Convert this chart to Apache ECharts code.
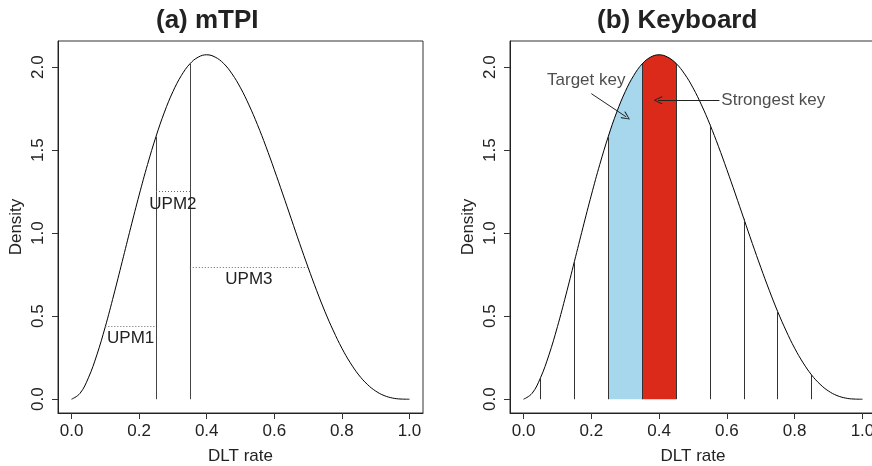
<!DOCTYPE html>
<html>
<head>
<meta charset="utf-8">
<script src="https://cdn.jsdelivr.net/npm/echarts@6/dist/echarts.min.js"></script>
<style>
  html, body { margin: 0; padding: 0; background: #fff; }
  #main { width: 872px; height: 466px; }
</style>
</head>
<body>
<div id="main"></div>
<script>
// density curve (same curve in both panels)
var dltRate = [0, 0.025, 0.05, 0.075, 0.1, 0.125, 0.15, 0.175, 0.2, 0.225, 0.25, 0.275, 0.3, 0.325, 0.35, 0.375, 0.4,
  0.425, 0.45, 0.475, 0.5, 0.525, 0.55, 0.575, 0.6, 0.625, 0.65, 0.675, 0.7, 0.725, 0.75, 0.775, 0.8, 0.825, 0.85,
  0.875, 0.9, 0.925, 0.95, 0.975, 1];
var density = [0, 0.035, 0.129, 0.267, 0.437, 0.628, 0.829, 1.032, 1.229, 1.414, 1.582, 1.729, 1.852, 1.949, 2.019,
  2.060, 2.074, 2.060, 2.022, 1.959, 1.875, 1.772, 1.654, 1.523, 1.382, 1.236, 1.087, 0.938, 0.794, 0.656, 0.527,
  0.411, 0.307, 0.219, 0.146, 0.090, 0.049, 0.022, 0.007, 0.001, 0];

var xTicks = [0, 0.2, 0.4, 0.6, 0.8, 1.0];
var yTicks = [0, 0.5, 1.0, 1.5, 2.0];

// (a) mTPI: interval edges and unit probability mass levels
var mtpiEdges = [0.25, 0.35];
var mtpiEdgeHeights = [1.582, 2.019];
var upmNames = ['UPM1', 'UPM2', 'UPM3'];
var upmFrom = [0.10, 0.25, 0.35];
var upmTo = [0.25, 0.35, 0.70];
var upmLevel = [0.44, 1.25, 0.795];

// (b) Keyboard: key edges
var keyEdges = [0.05, 0.15, 0.25, 0.35, 0.45, 0.55, 0.65, 0.75, 0.85];
var keyEdgeHeights = [0.129, 0.829, 1.582, 2.019, 2.022, 1.654, 1.087, 0.527, 0.146];
var targetKey = [0.25, 0.35];
var strongestKey = [0.35, 0.45];

// annotations: [text, textX, textY, arrowFromX, arrowFromY, arrowToX, arrowToY]
var notes = [
  ['Target key', 0.185, 1.92, 0.20, 1.84, 0.303, 1.70],
  ['Strongest key', 0.737, 1.80, 0.578, 1.80, 0.397, 1.80]
];

var FONT = 'Liberation Sans, Arial, sans-serif';
var TXT = '#222';
var chevron = 'path://M5,0 L10,9 L9,10 L5,2 L1,10 L0,9 Z';

var curve = dltRate.map(function (x, i) { return [x, density[i]]; });
function slice(range) {
  return curve.filter(function (p) { return p[0] >= range[0] - 1e-9 && p[0] <= range[1] + 1e-9; });
}

function xAxis(idx) {
  return {
    type: 'value', gridIndex: idx, min: -0.04, max: 1.04,
    name: 'DLT rate', nameLocation: 'middle', nameGap: 35,
    nameTextStyle: { fontFamily: FONT, fontSize: 17, color: TXT },
    axisLine: { show: true, onZero: false, lineStyle: { color: '#222', width: 1 } },
    splitLine: { show: false },
    axisTick: { show: true, customValues: xTicks, length: 6, lineStyle: { color: '#333', width: 1 } },
    axisLabel: {
      customValues: xTicks, margin: 10, fontFamily: FONT, fontSize: 17, color: TXT,
      formatter: function (v) { return v.toFixed(1); }
    }
  };
}
function yAxis(idx) {
  return {
    type: 'value', gridIndex: idx, min: -0.083, max: 2.157,
    name: 'Density', nameLocation: 'middle', nameGap: 33,
    nameTextStyle: { fontFamily: FONT, fontSize: 17, color: TXT },
    axisLine: { show: true, onZero: false, lineStyle: { color: '#222', width: 1 } },
    splitLine: { show: false },
    axisTick: { show: true, customValues: yTicks, length: 6, lineStyle: { color: '#333', width: 1 } },
    axisLabel: {
      customValues: yTicks, rotate: 90, margin: 20, align: 'center', verticalAlign: 'middle',
      fontFamily: FONT, fontSize: 17, color: TXT,
      formatter: function (v) { return v.toFixed(1); }
    }
  };
}

function vlines(xs, hs) {
  return xs.map(function (x, i) { return [{ coord: [x, 0] }, { coord: [x, hs[i]] }]; });
}

var upmLines = upmNames.map(function (n, i) {
  return [{ coord: [upmFrom[i], upmLevel[i]], name: n }, { coord: [upmTo[i], upmLevel[i]] }];
});

var arrowLines = notes.map(function (n) {
  return [{ coord: [n[3], n[4]], symbol: 'none' }, { coord: [n[5], n[6]], symbol: chevron, symbolSize: [8, 9] }];
});

var myChart = echarts.init(document.getElementById('main'));
var option = {
  animation: false,
  title: [
    { text: '(a) mTPI', left: 151, top: 3, textStyle: { fontFamily: FONT, fontSize: 26, fontWeight: 'bold', color: TXT } },
    { text: '(b) Keyboard', left: 592, top: 3, textStyle: { fontFamily: FONT, fontSize: 26, fontWeight: 'bold', color: TXT } }
  ],
  grid: [
    { left: 58, top: 41, width: 365, height: 372, show: true, borderColor: '#333', borderWidth: 1,
      containLabel: false, outerBoundsMode: 'none' },
    { left: 510, top: 41, width: 366, height: 372, show: true, borderColor: '#333', borderWidth: 1,
      containLabel: false, outerBoundsMode: 'none' }
  ],
  xAxis: [xAxis(0), xAxis(1)],
  yAxis: [yAxis(0), yAxis(1)],
  series: [
    {
      type: 'line', xAxisIndex: 0, yAxisIndex: 0, data: curve, smooth: 0.4, showSymbol: false,
      lineStyle: { color: '#000', width: 1 },
      markLine: {
        silent: true, symbol: 'none', animation: false,
        label: { show: false },
        lineStyle: { color: '#444', width: 1, type: 'solid' },
        data: vlines(mtpiEdges, mtpiEdgeHeights)
      }
    },
    {
      type: 'line', xAxisIndex: 0, yAxisIndex: 0, data: [], showSymbol: false,
      markLine: {
        silent: true, symbol: 'none', animation: false,
        lineStyle: { color: '#666', width: 1, type: [1, 2] },
        label: {
          show: true, position: 'insideMiddleBottom', distance: 4,
          formatter: '{b}', fontFamily: FONT, fontSize: 17, color: TXT
        },
        data: upmLines
      }
    },
    {
      type: 'line', xAxisIndex: 1, yAxisIndex: 1, data: slice(targetKey), smooth: 0.4, showSymbol: false,
      lineStyle: { width: 0 }, areaStyle: { color: '#a7d7ec', opacity: 1 }
    },
    {
      type: 'line', xAxisIndex: 1, yAxisIndex: 1, data: slice(strongestKey), smooth: 0.4, showSymbol: false,
      lineStyle: { width: 0 }, areaStyle: { color: '#dc2a1a', opacity: 1 }
    },
    {
      type: 'line', xAxisIndex: 1, yAxisIndex: 1, data: curve, smooth: 0.4, showSymbol: false,
      lineStyle: { color: '#000', width: 1 },
      markLine: {
        silent: true, symbol: 'none', animation: false,
        label: { show: false },
        lineStyle: { color: '#333', width: 1, type: 'solid' },
        data: vlines(keyEdges, keyEdgeHeights)
      }
    },
    {
      type: 'scatter', xAxisIndex: 1, yAxisIndex: 1, symbolSize: 0,
      data: notes.map(function (n) { return { value: [n[1], n[2]], name: n[0] }; }),
      label: { show: true, position: 'inside', formatter: '{b}', fontFamily: FONT, fontSize: 17, color: TXT },
      markLine: {
        silent: true, animation: false,
        label: { show: false },
        lineStyle: { color: '#222', width: 1, type: 'solid' },
        data: arrowLines
      }
    }
  ]
};
myChart.setOption(option);
window.addEventListener('resize', function () {
  myChart.resize();
});
</script>
</body>
</html>
